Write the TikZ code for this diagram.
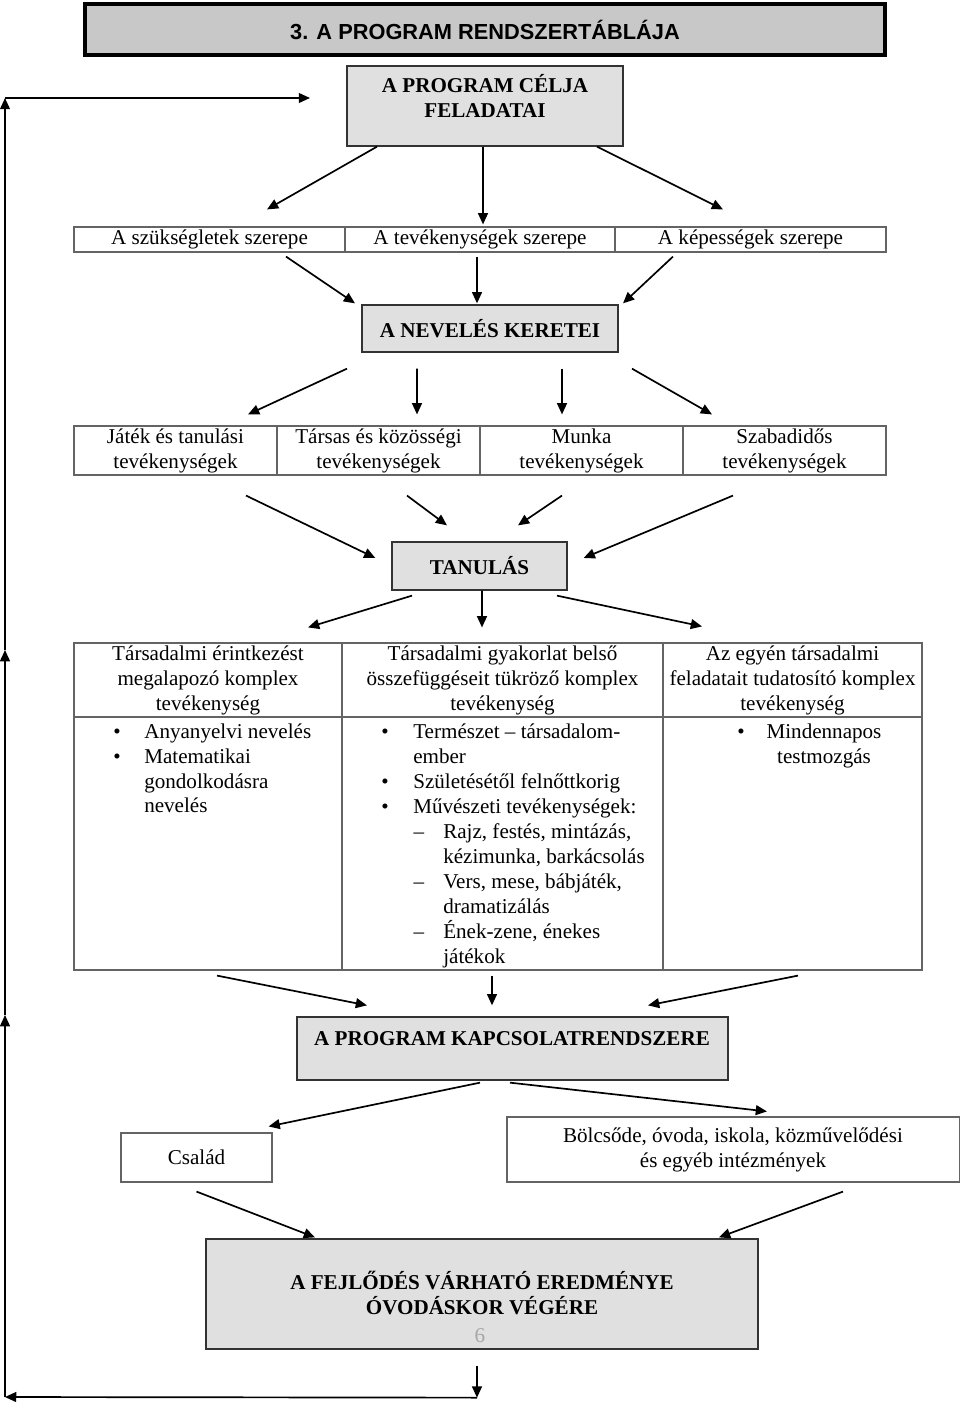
\documentclass[tikz,border=0pt]{standalone}
\usepackage{fontspec}
\setmainfont{Liberation Serif}
\newfontfamily\headfont{Liberation Sans}
\usetikzlibrary{arrows.meta,calc}
\definecolor{titlegray}{RGB}{200,200,200}
\definecolor{boxgray}{RGB}{224,224,224}
\definecolor{linegray}{RGB}{100,100,100}
\begin{document}
\begin{tikzpicture}[x=0.025cm,y=-0.025cm,
    every node/.style={font=\fontsize{15}{17.8}\selectfont,inner sep=0pt},
    cell/.style={draw=linegray,line width=0.8pt,align=center},
    gbox/.style={draw=black!80,line width=0.9pt,fill=boxgray},
    btxt/.style={font=\fontsize{15}{17.8}\selectfont\bfseries,align=center},
    arr/.style={line width=1.2pt,-{Triangle[length=8pt,width=7pt]}}]
            \useasboundingbox (0,0) rectangle (960,1406);
            \node[draw,line width=2.5pt,fill=titlegray,minimum width=20cm,minimum height=1.275cm,font=\headfont\fontsize{15.5}{18}\selectfont\bfseries] (title) at (485,29.5) {3. A PROGRAM RENDSZERTÁBLÁJA};
            \node[gbox,minimum width=6.9cm,minimum height=2cm] (goal) at (485,106) {};
            \node[btxt] (goaltxt) at (485,96) {A PROGRAM CÉLJA\\FELADATAI};
            \foreach \u \n \w in {209.5/szuk/{A szükségletek szerepe},480/tev/{A tevékenységek szerepe},750.5/kep/{A képességek szerepe}}
            \node[cell,minimum width=6.775cm,minimum height=0.625cm] (\n) at (\u,239.5) {\w};
            \node[gbox,btxt,minimum width=6.4cm,minimum height=1.175cm] (nevel) at (490,328.5) {A NEVELÉS KERETEI};
            \foreach \u \n \w in {175.5/jat/{Játék és tanulási\\tevékenységek},378.5/tars/{Társas és közösségi\\tevékenységek},581.5/munka/{Munka\\tevékenységek},784.5/szab/{Szabadidős\\tevékenységek}}
            \node[cell,minimum width=5.075cm,minimum height=1.225cm] (\n) at (\u,450.5) {\w};
            \node[gbox,btxt,minimum width=4.375cm,minimum height=1.2cm] (tanul) at (479.5,566) {TANULÁS};
            \foreach \u \n \ww \w in {208/h1/6.7cm/{Társadalmi érintkezést\\megalapozó komplex\\tevékenység},502.5/h2/8.025cm/{Társadalmi gyakorlat belső\\összefüggéseit tükröző komplex\\tevékenység},792.5/h3/6.475cm/{Az egyén társadalmi\\feladatait tudatosító komplex\\tevékenység}}
            \node[cell,minimum width=\ww,minimum height=1.85cm] (\n) at (\u,680) {\w};
            \foreach \u \n \ww in {208/b1/6.7cm,502.5/b2/8.025cm,792.5/b3/6.475cm}
            \node[cell,minimum width=\ww,minimum height=6.325cm] (\n) at (\u,843.5) {};
            \foreach \u \v \w [count=\i] in {144/738/{Anyanyelvi nevelés},144/763/{Matematikai},144/788/{gondolkodásra},144/812/{nevelés},413/738/{Természet – társadalom-},413/763/{ember},413/788/{Születésétől felnőttkorig},413/813/{Művészeti tevékenységek:},443/838/{Rajz, festés, mintázás,},443/863/{kézimunka, barkácsolás},443/888/{Vers, mese, bábjáték,},443/913/{dramatizálás},443/938/{Ének-zene, énekes},443/963/{játékok}}
            \node[anchor=base west] (t\i) at (\u,\v) {\w};
            \foreach \v \w [count=\i] in {738/Mindennapos,763/testmozgás}
            \node[anchor=base] (r\i) at (824,\v) {\w};
            \foreach \u \v [count=\i] in {117/738,117/763,385/738,385/788,385/813,741/738}
            \node[anchor=base] (dot\i) at (\u,\v) {\textbullet};
            \foreach \v [count=\i] in {838,888,938}
            \node[anchor=base] (dash\i) at (419,\v) {–};
            \node[gbox,minimum width=10.775cm,minimum height=1.575cm] (kapcs) at (512.5,1048.5) {};
            \node[btxt,anchor=base] (kapcstxt) at (512,1045) {A PROGRAM KAPCSOLATRENDSZERE};
            \node[cell,minimum width=3.775cm,minimum height=1.225cm] (csalad) at (196.5,1157.5) {Család};
            \node[cell,minimum width=11.3cm,minimum height=1.625cm] (bolcs) at (733,1149.5) {Bölcsőde, óvoda, iskola, közművelődési\\és egyéb intézmények};
            \node[gbox,minimum width=13.8cm,minimum height=2.75cm] (fejl) at (482,1294) {};
            \node[btxt] (fejltxt) at (482,1293) {A FEJLŐDÉS VÁRHATÓ EREDMÉNYE\\ÓVODÁSKOR VÉGÉRE};
            \node[anchor=base,text=black!35] (page) at (480,1342) {6};
            \draw[arr] ($(goal.south)+(-108,0)$) -- ($(szuk.north)+(57.5,-17)$);
            \draw[arr] ($(goal.south)+(-2,0)$) -- ($(tev.north)+(3,-2)$);
            \draw[arr] ($(goal.south)+(112,0)$) -- ($(kep.north)+(-27.5,-17)$);
            \draw[arr] ($(szuk.south)+(76.5,4)$) -- ($(nevel.north)+(-135,-1)$);
            \draw[arr] ($(tev.south)+(-3,4)$) -- ($(nevel.north)+(-13,-1)$);
            \draw[arr] ($(kep.south)+(-77.5,4)$) -- ($(nevel.north)+(133,-1)$);
            \draw[arr] ($(nevel.south)+(-143,16)$) -- ($(jat.north)+(72.5,-11)$);
            \draw[arr] ($(nevel.south)+(-73,16)$) -- ($(tars.north)+(38.5,-11)$);
            \draw[arr] ($(nevel.south)+(72,16)$) -- ($(munka.north)+(-19.5,-11)$);
            \draw[arr] ($(nevel.south)+(142,16)$) -- ($(szab.north)+(-72.5,-11)$);
            \draw[arr] ($(jat.south)+(70.5,20)$) -- ($(tanul.west)+(-16,-8)$);
            \draw[arr] ($(tars.south)+(28.5,20)$) -- ($(tanul.north)+(-32.5,-16)$);
            \draw[arr] ($(munka.south)+(-19.5,20)$) -- ($(tanul.north)+(38.5,-16)$);
            \draw[arr] ($(szab.south)+(-51.5,20)$) -- ($(tanul.east)+(16,-8)$);
            \draw[arr] ($(tanul.south)+(-67.5,5)$) -- ($(h1.north)+(100,-15)$);
            \draw[arr] ($(tanul.south)+(2.5,0)$) -- ($(h2.north)+(-20.5,-15)$);
            \draw[arr] ($(tanul.south)+(77.5,5)$) -- ($(h3.north)+(-90.5,-16)$);
            \draw[arr] ($(b1.south)+(9,5)$) -- ($(kapcs.north)+(-145.5,-11)$);
            \draw[arr] ($(b2.south)+(-10.5,5)$) -- ($(kapcs.north)+(-20.5,-11)$);
            \draw[arr] ($(b3.south)+(5.5,5)$) -- ($(kapcs.north)+(135.5,-11)$);
            \draw[arr] ($(kapcs.south)+(-32.5,2)$) -- ($(csalad.north east)+(-4,-6)$);
            \draw[arr] ($(kapcs.south)+(-2.5,2)$) -- ($(bolcs.north)+(34,-5)$);
            \draw[arr] ($(csalad.south)+(0,9)$) -- ($(fejl.north)+(-167,-1)$);
            \draw[arr] ($(bolcs.south)+(110,9)$) -- ($(fejl.north)+(237,-1)$);
            \coordinate (c1) at ($(fejl.south)+(-5,48)$);
            \coordinate (c2) at (5,1397);
            \coordinate (m1) at (5,1015);
            \coordinate (m2) at (5,650);
            \coordinate (c3) at (5,98);
            \coordinate (c4) at (310,98);
            \draw[arr] ($(fejl.south)+(-5,16)$) -- (c1);
            \draw[arr] (c1) -- (c2);
            \draw[arr] (c2) -- (m1);
            \draw[arr] (m1) -- (m2);
            \draw[arr] (m2) -- (c3);
            \draw[arr] (c3) -- (c4);
        \end{tikzpicture}
\end{document}
